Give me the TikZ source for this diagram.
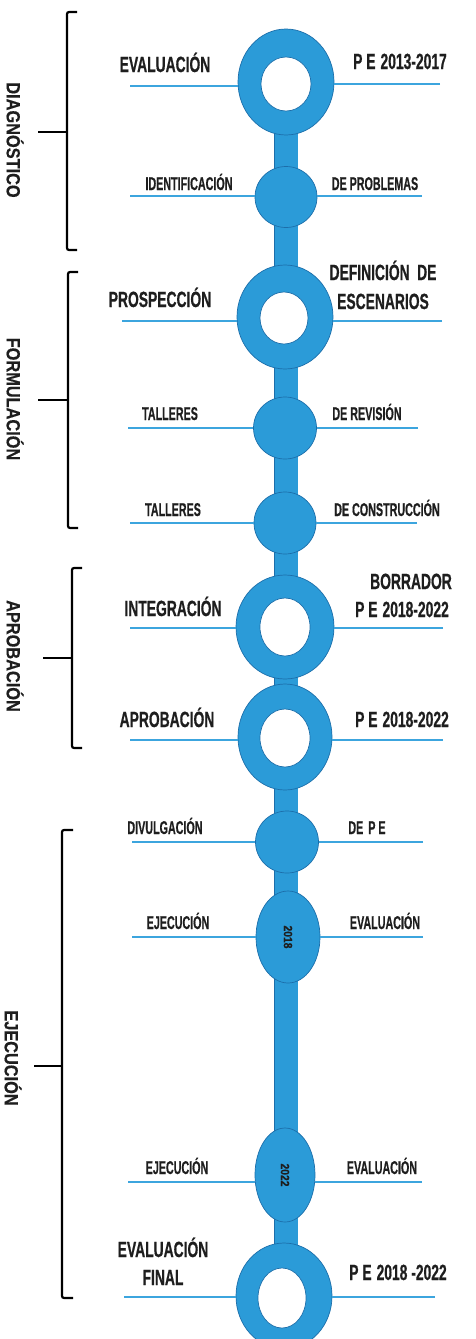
\documentclass[tikz,border=0pt]{standalone}
\usepackage{fontspec}
\setmainfont{Liberation Sans}
\newfontfamily\bigfont[FakeStretch=0.63,FakeBold=0.6]{Liberation Sans}
\newfontfamily\smallfont[FakeStretch=0.58,FakeBold=0.5]{Liberation Sans}
\newfontfamily\sidefont[FakeStretch=0.86,FakeBold=0.4]{Liberation Sans}
\usetikzlibrary{shapes.geometric,backgrounds}
\definecolor{tlblue}{RGB}{43,155,216}
\definecolor{tledge}{RGB}{28,110,170}
\definecolor{tlline}{RGB}{60,165,222}
\definecolor{txt}{RGB}{30,30,30}
\tikzset{
  ring/.style={ellipse, draw=tledge, line width=0.7pt, fill=tlblue, inner sep=0pt},
  hole/.style={ellipse, draw=tledge, line width=0.7pt, fill=white, inner sep=0pt},
  disc/.style={ellipse, draw=tledge, line width=0.7pt, fill=tlblue, inner sep=0pt},
  hline/.style={draw=tlline, line width=2pt},
  stem/.style={draw=tledge, line width=0.7pt, double=tlblue, double distance=23pt},
  big/.style={font=\bigfont\bfseries\fontsize{22}{26}\selectfont, text=txt, inner sep=0pt, anchor=base},
  small/.style={font=\smallfont\bfseries\fontsize{18.5}{22}\selectfont, text=txt, inner sep=0pt, anchor=base},
  side/.style={font=\sidefont\bfseries\fontsize{19}{22}\selectfont, text=txt, inner sep=0pt, rotate=-90},
  year/.style={font=\sidefont\bfseries\fontsize{12}{13}\selectfont, text=txt, inner sep=0pt, rotate=-90},
  brace/.style={draw=black, line width=2.2pt, rounded corners=2pt},
}
\newcommand\gapPE{\hspace{5pt}}
\begin{document}
\begin{tikzpicture}[x=1pt,y=-1pt]
\useasboundingbox (0,0) rectangle (475,1339);
\clip (0,0) rectangle (475,1339);

% ---- shapes along the timeline ----
\node[ring, minimum width=96pt, minimum height=106pt] (r1) at (286,82) {};
\node[hole, minimum width=50pt, minimum height=54pt] (h1) at (286,84) {};
\node[disc, minimum width=62pt, minimum height=61pt] (d2) at (286,197) {};
\node[ring, minimum width=96pt, minimum height=104pt] (r3) at (285,317) {};
\node[hole, minimum width=48pt, minimum height=52pt] (h3) at (284,318) {};
\node[disc, minimum width=63pt, minimum height=62pt] (d4) at (285,428) {};
\node[disc, minimum width=62pt, minimum height=62pt] (d5) at (285,523) {};
\node[ring, minimum width=98pt, minimum height=104pt] (r6) at (285,627) {};
\node[hole, minimum width=50pt, minimum height=58pt] (h6) at (285,627) {};
\node[ring, minimum width=94pt, minimum height=106pt] (r7) at (285,737) {};
\node[hole, minimum width=50pt, minimum height=58pt] (h7) at (285,738) {};
\node[disc, minimum width=63pt, minimum height=62pt] (d8) at (287,842) {};
\node[disc, minimum width=64pt, minimum height=92pt] (e9) at (288,937) {};
\node[year] (y9) at (e9) {2018};
\node[disc, minimum width=60pt, minimum height=94pt] (e10) at (285,1175) {};
\node[year] (y10) at (e10) {2022};
\node[ring, minimum width=96pt, minimum height=106pt] (r11) at (284,1296) {};
\node[hole, minimum width=48pt, minimum height=60pt] (h11) at (282,1298) {};

% ---- stem behind ----
\begin{pgfonlayer}{background}
\draw[stem] (r1.center) -- (r1.center |- r11.center);
\end{pgfonlayer}

% ---- side lines ----
\coordinate (a1) at (130,86);  \coordinate (b1) at (440,84);
\draw[hline] (a1) -- (a1 -| r1.west);  \draw[hline] (b1) -- (b1 -| r1.east);
\coordinate (a2) at (130,196); \coordinate (b2) at (422,196);
\draw[hline] (a2) -- (a2 -| d2.west);  \draw[hline] (b2) -- (b2 -| d2.east);
\coordinate (a3) at (122,321); \coordinate (b3) at (442,321);
\draw[hline] (a3) -- (a3 -| r3.west);  \draw[hline] (b3) -- (b3 -| r3.east);
\coordinate (a4) at (128,428); \coordinate (b4) at (418,428);
\draw[hline] (a4) -- (a4 -| d4.west);  \draw[hline] (b4) -- (b4 -| d4.east);
\coordinate (a5) at (130,523); \coordinate (b5) at (417,523);
\draw[hline] (a5) -- (a5 -| d5.west);  \draw[hline] (b5) -- (b5 -| d5.east);
\coordinate (a6) at (130,628); \coordinate (b6) at (443,628);
\draw[hline] (a6) -- (a6 -| r6.west);  \draw[hline] (b6) -- (b6 -| r6.east);
\coordinate (a7) at (130,740); \coordinate (b7) at (443,740);
\draw[hline] (a7) -- (a7 -| r7.west);  \draw[hline] (b7) -- (b7 -| r7.east);
\coordinate (a8) at (132,842); \coordinate (b8) at (423,842);
\draw[hline] (a8) -- (a8 -| d8.west);  \draw[hline] (b8) -- (b8 -| d8.east);
\coordinate (a9) at (132,937); \coordinate (b9) at (423,937);
\draw[hline] (a9) -- (a9 -| e9.west);  \draw[hline] (b9) -- (b9 -| e9.east);
\coordinate (a10) at (128,1182); \coordinate (b10) at (422,1182);
\draw[hline] (a10) -- (a10 -| e10.west);  \draw[hline] (b10) -- (b10 -| e10.east);
\coordinate (a11) at (124,1297); \coordinate (b11) at (435,1297);
\draw[hline] (a11) -- (a11 -| r11.west);  \draw[hline] (b11) -- (b11 -| r11.east);

% ---- labels (placed on their baselines) ----
\node[big] (t1l) at (165,72) {EVALUACIÓN};
\node[big] (t1r) at (400,69) {P E\gapPE 2013-2017};
\node[small] (t2l) at (189,190) {IDENTIFICACIÓN};
\node[small] (t2r) at (375,190) {DE PROBLEMAS};
\node[big] (t3l) at (160,307) {PROSPECCIÓN};
\node[big] (t3a) at (383,280) {DEFINICIÓN\, DE};
\node[big] (t3r) at (383,309) {ESCENARIOS};
\node[small] (t4l) at (170,420) {TALLERES};
\node[small] (t4r) at (367,420) {DE REVISIÓN};
\node[small] (t5l) at (173,516) {TALLERES};
\node[small] (t5r) at (387,516) {DE CONSTRUCCIÓN};
\node[big] (t6l) at (173,616) {INTEGRACIÓN};
\node[big] (t6a) at (411,589) {BORRADOR};
\node[big] (t6r) at (402,617) {P E\gapPE 2018-2022};
\node[big] (t7l) at (167,727) {APROBACIÓN};
\node[big] (t7r) at (402,727) {P E\gapPE 2018-2022};
\node[small] (t8l) at (165,834) {DIVULGACIÓN};
\node[small] (t8r) at (367,834) {DE\gapPE P E};
\node[small] (t9l) at (178,929) {EJECUCIÓN};
\node[small] (t9r) at (385,929) {EVALUACIÓN};
\node[small] (t10l) at (177,1174) {EJECUCIÓN};
\node[small] (t10r) at (382,1174) {EVALUACIÓN};
\node[big] (t11a) at (163,1257) {EVALUACIÓN};
\node[big] (t11l) at (163,1285) {FINAL};
\node[big] (t11r) at (398,1280) {P E\gapPE 2018 -2022};

% ---- phase brackets ----
\coordinate (p1a) at (77,12);  \coordinate (p1b) at (77,250);
\draw[brace] (p1a) -- (67,12) -- (67,250) -- (p1b);
\coordinate (p1m) at (38,132);
\draw[brace] (p1m) -- (p1m -| 67,0);
\node[side] (s1) at (15,140) {DIAGNÓSTICO};

\coordinate (p2a) at (78,272); \coordinate (p2b) at (78,528);
\draw[brace] (p2a) -- (68,272) -- (68,528) -- (p2b);
\coordinate (p2m) at (38,400);
\draw[brace] (p2m) -- (p2m -| 68,0);
\node[side] (s2) at (15,399) {FORMULACIÓN};

\coordinate (p3a) at (82,568); \coordinate (p3b) at (82,748);
\draw[brace] (p3a) -- (72,568) -- (72,748) -- (p3b);
\coordinate (p3m) at (43,658);
\draw[brace] (p3m) -- (p3m -| 72,0);
\node[side] (s3) at (15,656) {APROBACIÓN};

\coordinate (p4a) at (73,830); \coordinate (p4b) at (73,1298);
\draw[brace] (p4a) -- (62,830) -- (62,1298) -- (p4b);
\coordinate (p4m) at (34,1066);
\draw[brace] (p4m) -- (p4m -| 62,0);
\node[side] (s4) at (13,1058) {EJECUCIÓN};
\end{tikzpicture}
\end{document}
